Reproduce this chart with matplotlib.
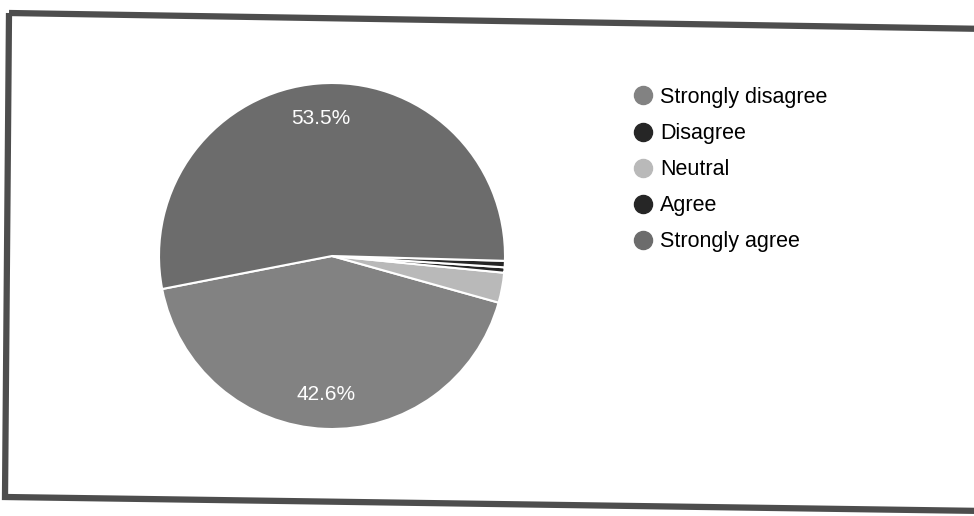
import matplotlib.pyplot as plt
from matplotlib.lines import Line2D
from matplotlib.patches import Polygon

labels = ['Strongly disagree', 'Disagree', 'Neutral', 'Agree', 'Strongly agree']
shares = [42.6, 0.5, 2.8, 0.6, 53.5]
colors = ['#828282', '#262626', '#b9b9b9', '#262626', '#6c6c6c']
draw_order = [0, 2, 1, 3, 4]

W, H = 974, 516
fig = plt.figure(figsize=(W / 100, H / 100), dpi=100)
fig.patch.set_facecolor('white')

# scanned frame, slightly tilted
frame = [(9, 13), (990, 29), (985, 511), (5, 497)]
fig.add_artist(Polygon([(x / W, 1 - y / H) for x, y in frame], closed=True,
                       fill=False, edgecolor='#4d4d4d', linewidth=4.5,
                       transform=fig.transFigure))

cx, cy, r = 332, 256, 173
ax = fig.add_axes([(cx - r) / W, 1 - (cy + r) / H, 2 * r / W, 2 * r / H])

vals = [shares[i] for i in draw_order]
cols = [colors[i] for i in draw_order]


def pct(p):
    return '%.1f%%' % p if p > 5 else ''


wedges, texts, autotexts = ax.pie(vals, colors=cols, startangle=191, counterclock=True,
                                  autopct=pct, pctdistance=0.8, radius=1,
                                  wedgeprops=dict(edgecolor='white', linewidth=1.5),
                                  textprops=dict(color='white', fontsize=15,
                                                 family='Liberation Sans'))
ax.set_xlim(-1, 1)
ax.set_ylim(-1, 1)
ax.axis('off')

handles = [Line2D([], [], marker='o', linestyle='', markersize=13,
                  markerfacecolor=c, markeredgecolor=c) for c in colors]
fig.legend(handles, labels, loc='upper left', bbox_to_anchor=(634 / W, 1 - 87 / H),
           frameon=False, handlelength=0.8, handletextpad=0.42, labelspacing=0.7,
           borderaxespad=0, borderpad=0,
           prop=dict(family='Liberation Sans', size=15.5))

fig.savefig('out.png', dpi=100)
